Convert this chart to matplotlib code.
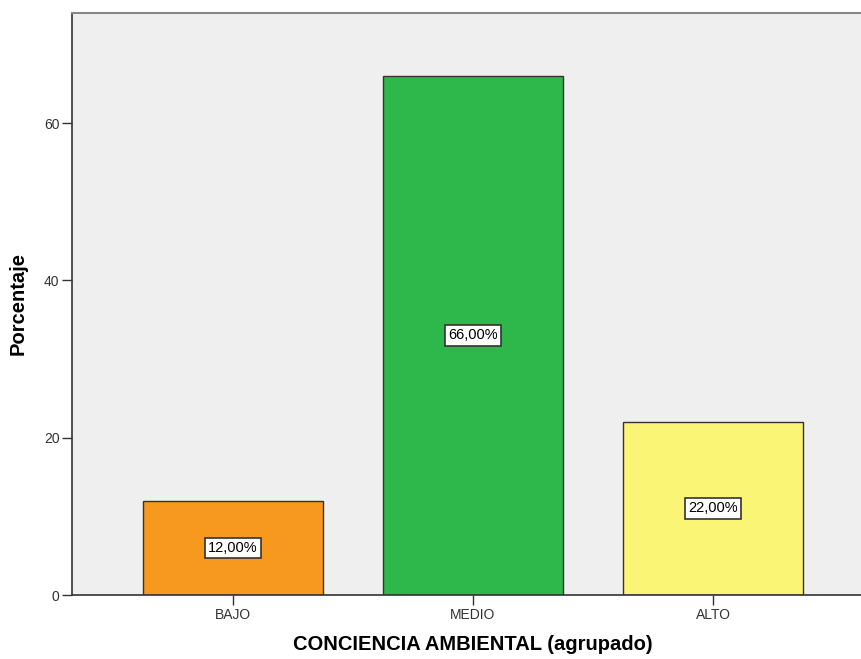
import matplotlib.pyplot as plt

plt.rcParams['font.family'] = ['Liberation Sans', 'DejaVu Sans']

categorias = ['BAJO', 'MEDIO', 'ALTO']
porcentajes = [12.0, 66.0, 22.0]
colores = ['#F7981F', '#2EB84B', '#FAF574']

fig = plt.figure(figsize=(8.61, 6.59), dpi=100)
ax = fig.add_axes([0.0836, 0.0971, 0.9315, 0.8832])
ax.set_facecolor('#EFEFEF')

x = range(len(categorias))
bars = ax.bar(x, porcentajes, width=0.75, color=colores,
              edgecolor='#333333', linewidth=1.0, zorder=2)

# etiqueta con el porcentaje en el centro de cada barra
for b, v in zip(bars, porcentajes):
    ax.text(b.get_x() + b.get_width() / 2, v / 2, f'{v:.2f}%'.replace('.', ','),
            ha='center', va='center', fontsize=10.5, color='black', zorder=3,
            bbox=dict(boxstyle='square,pad=0.22', facecolor='white',
                      edgecolor='#333333', linewidth=1.2))

ax.set_xlim(-0.67, 2.67)
ax.set_ylim(0, 74)
ax.set_yticks([0, 20, 40, 60])
ax.set_xticks(list(x))
ax.set_xticklabels(categorias)

ax.tick_params(axis='both', direction='out', length=7, width=1,
               color='#333333', labelsize=10, labelcolor='#333333', pad=2)

for s in ['left', 'bottom']:
    ax.spines[s].set_color('#333333')
    ax.spines[s].set_linewidth(1.2)
ax.spines['top'].set_color('#888888')
ax.spines['top'].set_linewidth(1.5)
ax.spines['right'].set_visible(False)

ax.set_xlabel('CONCIENCIA AMBIENTAL (agrupado)', fontsize=14.5, fontweight='bold',
              labelpad=10)
ax.set_ylabel('Porcentaje', fontsize=14.5, fontweight='bold', labelpad=12)

fig.savefig('out.png', dpi=100)
